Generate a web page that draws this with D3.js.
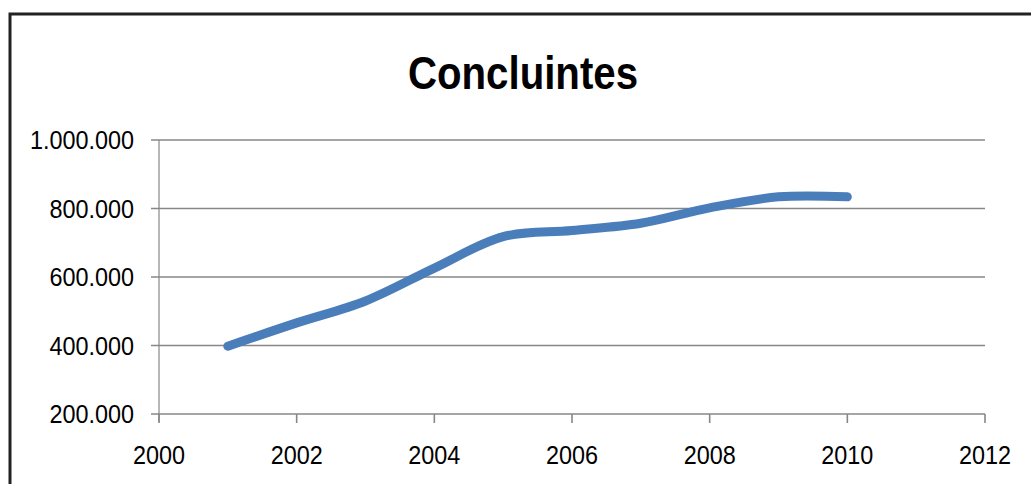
<!DOCTYPE html>
<html>
<head>
<meta charset="utf-8">
<script src="https://cdn.jsdelivr.net/npm/d3@7"></script>
<style>
  body { margin: 0; background: #fff; }
  text { font-family: "Liberation Sans", Arial, sans-serif; fill: #000; }
</style>
</head>
<body>
<svg id="chart"></svg>
<script>
// data
const years = [2001, 2002, 2003, 2004, 2005, 2006, 2007, 2008, 2009, 2010];
const concluintes = [398000, 466000, 530000, 626000, 718000, 736000, 757000, 802000, 834000, 834000];
const yTicks = [200000, 400000, 600000, 800000, 1000000];
const xTicks = [2000, 2002, 2004, 2006, 2008, 2010, 2012];
const title = "Concluintes";

const size = { w: 1031, h: 484 };
const plot = { l: 159, r: 985, t: 140, b: 414 };

const svg = d3.select("svg#chart").attr("width", size.w).attr("height", size.h);

// outer frame (only top and left edges visible)
svg.append("rect")
	.attr("x", 10).attr("y", 14)
	.attr("width", size.w + 20).attr("height", size.h + 20)
	.attr("fill", "none").attr("stroke", "#222").attr("stroke-width", 3);

const x = d3.scaleLinear().domain([2000, 2012]).range([plot.l, plot.r]);
const y = d3.scaleLinear().domain([200000, 1000000]).range([plot.b, plot.t]);

const br = d3.formatLocale({ decimal: ",", thousands: ".", grouping: [3], currency: ["", ""] });
const fmt = br.format(",d");

// title
svg.append("text")
	.attr("x", 523).attr("y", 89)
	.attr("text-anchor", "middle")
	.attr("font-size", 46).attr("font-weight", "bold")
	.attr("textLength", 230).attr("lengthAdjust", "spacingAndGlyphs")
	.text(title);

// gridlines
svg.append("g")
	.selectAll("line")
	.data(yTicks)
	.join("line")
	.attr("x1", plot.l - 8).attr("x2", plot.r)
	.attr("y1", (d) => y(d)).attr("y2", (d) => y(d))
	.attr("stroke", "#878787").attr("stroke-width", 1.6);

// y axis line
svg.append("line")
	.attr("x1", plot.l).attr("x2", plot.l)
	.attr("y1", plot.t).attr("y2", plot.b + 8)
	.attr("stroke", "#878787").attr("stroke-width", 1.2);

// x ticks
svg.append("g")
	.selectAll("line")
	.data(xTicks)
	.join("line")
	.attr("x1", (d) => x(d)).attr("x2", (d) => x(d))
	.attr("y1", plot.b).attr("y2", plot.b + 9)
	.attr("stroke", "#878787").attr("stroke-width", 1.6);

// labels are a bit condensed, like the original font
// y labels
svg.append("g")
	.selectAll("text")
	.data(yTicks)
	.join("text")
	.attr("transform", (d) => `translate(134, ${y(d) + 9}) scale(0.9, 1)`)
	.attr("text-anchor", "end")
	.attr("font-size", 26)
	.text((d) => fmt(d));

// x labels
svg.append("g")
	.selectAll("text")
	.data(xTicks)
	.join("text")
	.attr("transform", (d) => `translate(${x(d)}, 464) scale(0.9, 1)`)
	.attr("text-anchor", "middle")
	.attr("font-size", 26)
	.text((d) => d);

// the series
const line = d3.line()
	.x((d, i) => x(years[i]))
	.y((d) => y(d))
	.curve(d3.curveCatmullRom.alpha(0.5));

svg.append("path")
	.datum(concluintes)
	.attr("d", line)
	.attr("fill", "none")
	.attr("stroke", "#4a7ebb")
	.attr("stroke-width", 9)
	.attr("stroke-linecap", "round")
	.attr("stroke-linejoin", "round");
</script>
</body>
</html>
